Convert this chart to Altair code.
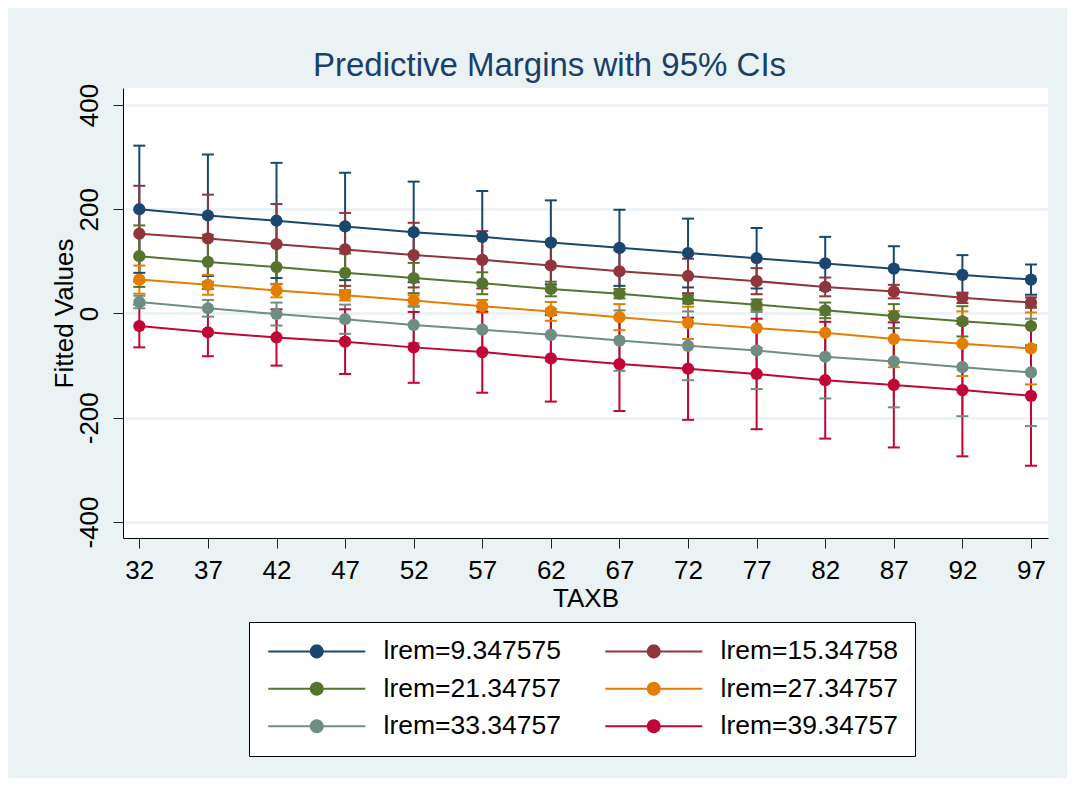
import math
import altair as alt
import pandas as pd

taxb = [32, 37, 42, 47, 52, 57, 62, 67, 72, 77, 82, 87, 92, 97]
y_ticks = [-400, -200, 0, 200, 400]
series = ["lrem=9.347575", "lrem=15.34758", "lrem=21.34757",
          "lrem=27.34757", "lrem=33.34757", "lrem=39.34757"]
colors = ["#1a476f", "#90353b", "#55752f", "#e37e00", "#6e8e84", "#c10534"]

fit_1 = [200, 188, 178, 167, 156, 147, 136, 126, 116, 106, 96, 86, 74, 65]
lo_1 = [78, 72, 68, 64, 60, 58, 56, 53, 50, 48, 45, 43, 38, 36]
hi_1 = [322, 305, 289, 270, 253, 235, 217, 199, 182, 164, 147, 129, 112, 94]

fit_2 = [153, 144, 133, 123, 112, 103, 92, 81, 72, 62, 51, 42, 30, 21]
lo_2 = [61, 60, 56, 53, 50, 48, 44, 41, 39, 37, 33, 29, 20, 11]
hi_2 = [245, 228, 210, 193, 174, 158, 140, 121, 105, 87, 69, 55, 40, 31]

fit_3 = [110, 99, 89, 78, 68, 58, 47, 38, 27, 17, 6, -5, -15, -24]
lo_3 = [51, 47, 45, 41, 39, 37, 33, 29, 19, 7, -9, -28, -44, -61]
hi_3 = [169, 151, 133, 115, 97, 79, 61, 47, 35, 27, 21, 18, 14, 13]

fit_4 = [65, 55, 44, 35, 25, 14, 4, -7, -18, -28, -37, -49, -58, -67]
lo_4 = [38, 36, 31, 25, 15, 2, -14, -32, -49, -66, -83, -103, -120, -136]
hi_4 = [92, 74, 57, 45, 35, 26, 22, 18, 13, 10, 9, 5, 4, 2]

fit_5 = [22, 10, -1, -11, -22, -31, -41, -52, -62, -71, -83, -92, -103, -113]
lo_5 = [10, -6, -23, -39, -57, -74, -91, -110, -128, -145, -163, -180, -197, -216]
hi_5 = [34, 26, 21, 17, 13, 12, 9, 6, 4, 3, -3, -4, -9, -10]

fit_6 = [-24, -36, -46, -54, -65, -74, -86, -97, -106, -116, -128, -137, -147, -158]
lo_6 = [-65, -82, -100, -116, -133, -152, -169, -187, -204, -222, -240, -257, -274, -292]
hi_6 = [17, 10, 8, 8, 3, 4, -3, -7, -8, -10, -16, -17, -20, -24]

fits = [fit_1, fit_2, fit_3, fit_4, fit_5, fit_6]
los = [lo_1, lo_2, lo_3, lo_4, lo_5, lo_6]
his = [hi_1, hi_2, hi_3, hi_4, hi_5, hi_6]

rows = []
for s, f, lo, hi in zip(series, fits, los, his):
    for xv, a, b, c in zip(taxb, f, lo, hi):
        rows.append({"series": s, "taxb": xv, "fit": a, "lo": b, "hi": c})
df = pd.DataFrame(rows)

FONT = "Liberation Sans"

# legend glyph (filled shapes only): thin bar + round dot in its middle
cx = 3.85
circle = []
for k in range(24):
    a = 2 * math.pi * k / 24
    circle.append(f"{cx + 0.7 * math.cos(a):.3f},{0.7 * math.sin(a):.3f}")
LEGEND_PATH = "M-1,-0.1L8.7,-0.1L8.7,0.1L-1,0.1Z" + "M" + "L".join(circle) + "Z"

xscale = alt.Scale(domain=[30.81, 98.24], nice=False, zero=False)
yscale = alt.Scale(domain=[-430.7, 432.6], nice=False, zero=False)
cscale = alt.Scale(domain=series, range=colors)

x_axis = alt.Axis(values=taxb, title="TAXB", labelFontSize=26, labelFont=FONT,
                  labelColor="black", tickSize=10, tickColor="#222222",
                  labelPadding=9, grid=False, domainColor="black",
                  titleFontSize=26, titleFont=FONT, titleFontWeight="normal",
                  titleColor="black", titleX=462.5, titleY=68,
                  titleBaseline="alphabetic", titleAlign="center")
y_axis = alt.Axis(values=y_ticks, title="Fitted Values", labelFontSize=26,
                  labelFont=FONT, labelColor="black", labelAngle=270,
                  labelAlign="center", labelBaseline="bottom",
                  labelExpr="'' + datum.value",
                  tickSize=10, tickColor="#222222", labelPadding=11,
                  grid=True, gridColor="#EAF2F3", gridWidth=2.5,
                  domainColor="black", titleFontSize=26, titleFont=FONT,
                  titleFontWeight="normal", titleColor="black",
                  titleAngle=270, titleX=-51, titleY=225,
                  titleBaseline="alphabetic", titleAlign="center")

X = alt.X("taxb:Q", scale=xscale, axis=x_axis)

legend = alt.Legend(title=None, orient="none", legendX=126, legendY=534,
                    direction="horizontal", columns=2,
                    symbolType=LEGEND_PATH, symbolSize=400,
                    symbolStrokeWidth=0, labelOffset=92,
                    labelFontSize=26.5, labelFont=FONT, labelColor="black",
                    columnPadding=40, rowPadding=10.5,
                    padding=16, strokeColor="black", fillColor="white",
                    labelLimit=400)
colr = alt.Color("series:N", scale=cscale, legend=legend)

base = alt.Chart(df)

rules = base.mark_rule(strokeWidth=2, opacity=1).encode(
    x=X, y=alt.Y("lo:Q", scale=yscale, axis=y_axis), y2="hi:Q", color=colr)
cap_lo = base.mark_tick(orient="horizontal", size=12, thickness=2, opacity=1).encode(
    x=X, y=alt.Y("lo:Q", scale=yscale), color=colr)
cap_hi = base.mark_tick(orient="horizontal", size=12, thickness=2, opacity=1).encode(
    x=X, y=alt.Y("hi:Q", scale=yscale), color=colr)
lines = base.mark_line(strokeWidth=2, opacity=1).encode(
    x=X, y=alt.Y("fit:Q", scale=yscale), color=colr)
points = base.mark_point(filled=True, size=150, opacity=1).encode(
    x=X, y=alt.Y("fit:Q", scale=yscale), color=colr)

chart = alt.layer(rules, cap_lo, cap_hi, lines, points).properties(
    width=925, height=450,
    title=alt.TitleParams("Predictive Margins with 95% CIs", fontSize=33,
                          font=FONT, fontWeight="normal", color="#1a3f6b",
                          anchor="middle", dx=-36, dy=5, offset=5),
    autosize=alt.AutoSizeParams(type="none"),
    padding={"left": 115, "top": 80, "right": 19, "bottom": 240},
    background="#EAF2F3",
).configure_view(fill="white", stroke=None)

chart.save("out.html", embed_options={"renderer": "svg", "actions": False})
